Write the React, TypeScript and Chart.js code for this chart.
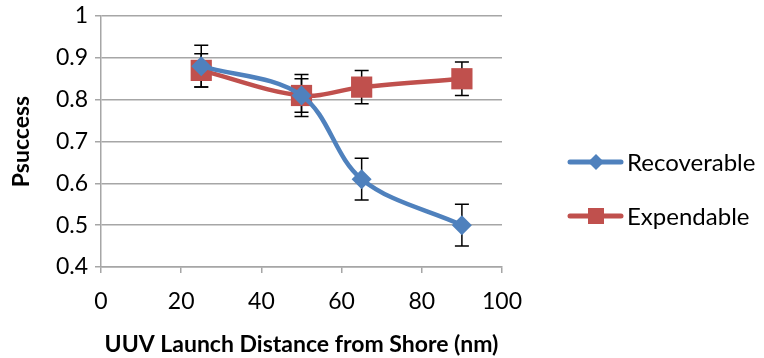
import React, { useEffect, useRef } from 'react';
import { Chart, registerables } from 'chart.js';

Chart.register(...registerables);

const distances = [25, 50, 65, 90];
const recoverable = [0.88, 0.81, 0.61, 0.5];
const recoverableErr = [0.05, 0.05, 0.05, 0.05];
const expendable = [0.87, 0.81, 0.83, 0.85];
const expendableErr = [0.04, 0.04, 0.04, 0.04];
const xTicks = [0, 20, 40, 60, 80, 100];
const yTicks = [0.4, 0.5, 0.6, 0.7, 0.8, 0.9, 1];
const seriesNames = ['Recoverable', 'Expendable'];
const seriesColors = ['#4F81BD', '#C0504D'];
const xTitle = 'UUV Launch Distance from Shore (nm)';
const yTitle = 'Psuccess';

const FONT = "Lato, 'Open Sans', sans-serif";
const GRID = '#A6A6A6';

const errorBarPlugin = {
  id: 'errorBars',
  beforeDatasetsDraw(chart: any) {
    const ctx = chart.ctx;
    const xs = chart.scales.x;
    const ys = chart.scales.y;
    ctx.save();
    ctx.strokeStyle = '#000';
    ctx.lineWidth = 1.5;
    chart.data.datasets.forEach((ds: any) => {
      ds.data.forEach((p: any, i: number) => {
        const e = ds.errors[i];
        const px = xs.getPixelForValue(p.x);
        const top = ys.getPixelForValue(p.y + e);
        const bot = ys.getPixelForValue(p.y - e);
        ctx.beginPath();
        ctx.moveTo(px, top);
        ctx.lineTo(px, bot);
        ctx.moveTo(px - 7, top);
        ctx.lineTo(px + 7, top);
        ctx.moveTo(px - 7, bot);
        ctx.lineTo(px + 7, bot);
        ctx.stroke();
      });
    });
    ctx.restore();
  },
};

const legendPlugin = {
  id: 'customLegend',
  afterDraw(chart: any) {
    const ctx = chart.ctx;
    const x0 = 568;
    const ys = [162, 216];
    ctx.save();
    seriesNames.forEach((name, i) => {
      const y = ys[i];
      ctx.strokeStyle = seriesColors[i];
      ctx.fillStyle = seriesColors[i];
      ctx.lineWidth = 5;
      ctx.lineCap = 'round';
      ctx.beginPath();
      ctx.moveTo(x0 + 2, y);
      ctx.lineTo(x0 + 53, y);
      ctx.stroke();
      const cx = x0 + 28;
      ctx.beginPath();
      if (i === 0) {
        ctx.moveTo(cx - 8, y);
        ctx.lineTo(cx, y - 8);
        ctx.lineTo(cx + 8, y);
        ctx.lineTo(cx, y + 8);
        ctx.closePath();
      } else {
        ctx.rect(cx - 8, y - 8, 16, 16);
      }
      ctx.fill();
      ctx.fillStyle = '#000';
      ctx.font = `24px ${FONT}`;
      ctx.textBaseline = 'middle';
      ctx.textAlign = 'left';
      ctx.fillText(name, x0 + 59, y + 1);
    });
    ctx.restore();
  },
};

export default function App() {
  const ref = useRef<HTMLCanvasElement | null>(null);
  useEffect(() => {
    document.body.style.margin = '0';
    const canvas = ref.current!;
    const chart = new Chart(canvas, {
      type: 'line',
      data: {
        datasets: [
          {
            label: seriesNames[0],
            data: distances.map((x, i) => ({ x, y: recoverable[i] })),
            errors: recoverableErr,
            borderColor: seriesColors[0],
            backgroundColor: seriesColors[0],
            borderWidth: 4.5,
            pointStyle: 'rectRot',
            pointRadius: 10,
            pointBorderWidth: 0,
            tension: 0.35,
          } as any,
          {
            label: seriesNames[1],
            data: distances.map((x, i) => ({ x, y: expendable[i] })),
            errors: expendableErr,
            borderColor: seriesColors[1],
            backgroundColor: seriesColors[1],
            borderWidth: 4.5,
            pointStyle: 'rect',
            pointRadius: 15,
            pointBorderWidth: 0,
            tension: 0.35,
          } as any,
        ],
      },
      options: {
        responsive: false,
        animation: false,
        layout: { padding: { left: 0, right: 262, top: 16, bottom: 0 } },
        plugins: { legend: { display: false }, tooltip: { enabled: false } },
        scales: {
          x: {
            type: 'linear',
            min: 0,
            max: 100,
            afterBuildTicks: (s: any) => {
              s.ticks = xTicks.map((v) => ({ value: v }));
            },
            afterFit: (s: any) => {
              s.height = 91;
              s.paddingLeft = 0;
              s.paddingRight = 0;
            },
            grid: { drawOnChartArea: false, drawTicks: true, tickLength: 6, color: GRID, lineWidth: 1.5 },
            border: { color: GRID, width: 1.5 },
            ticks: { color: '#000', font: { family: FONT, size: 23 }, padding: 15, maxRotation: 0 },
            title: {
              display: true,
              text: xTitle,
              color: '#000',
              font: { family: FONT, size: 23, weight: 'bold' },
              padding: { top: 11, bottom: 0 },
            },
          },
          y: {
            min: 0.4,
            max: 1,
            afterBuildTicks: (s: any) => {
              s.ticks = yTicks.map((v) => ({ value: v }));
            },
            afterFit: (s: any) => {
              s.width = 101;
              s.paddingTop = 0;
              s.paddingBottom = 0;
            },
            grid: { color: GRID, lineWidth: 1.5, tickLength: 6 },
            border: { color: GRID, width: 1.5 },
            ticks: {
              color: '#000',
              font: { family: FONT, size: 23 },
              padding: 7,
              callback: (v: any) => String(Math.round(v * 10) / 10),
            },
            title: {
              display: true,
              text: yTitle,
              color: '#000',
              font: { family: FONT, size: 23, weight: 'bold' },
              padding: { top: 8, bottom: 0 },
            },
          },
        },
      },
      plugins: [errorBarPlugin, legendPlugin],
    });
    return () => chart.destroy();
  }, []);
  return <canvas ref={ref} width={764} height={358} style={{ display: 'block' }} />;
}
